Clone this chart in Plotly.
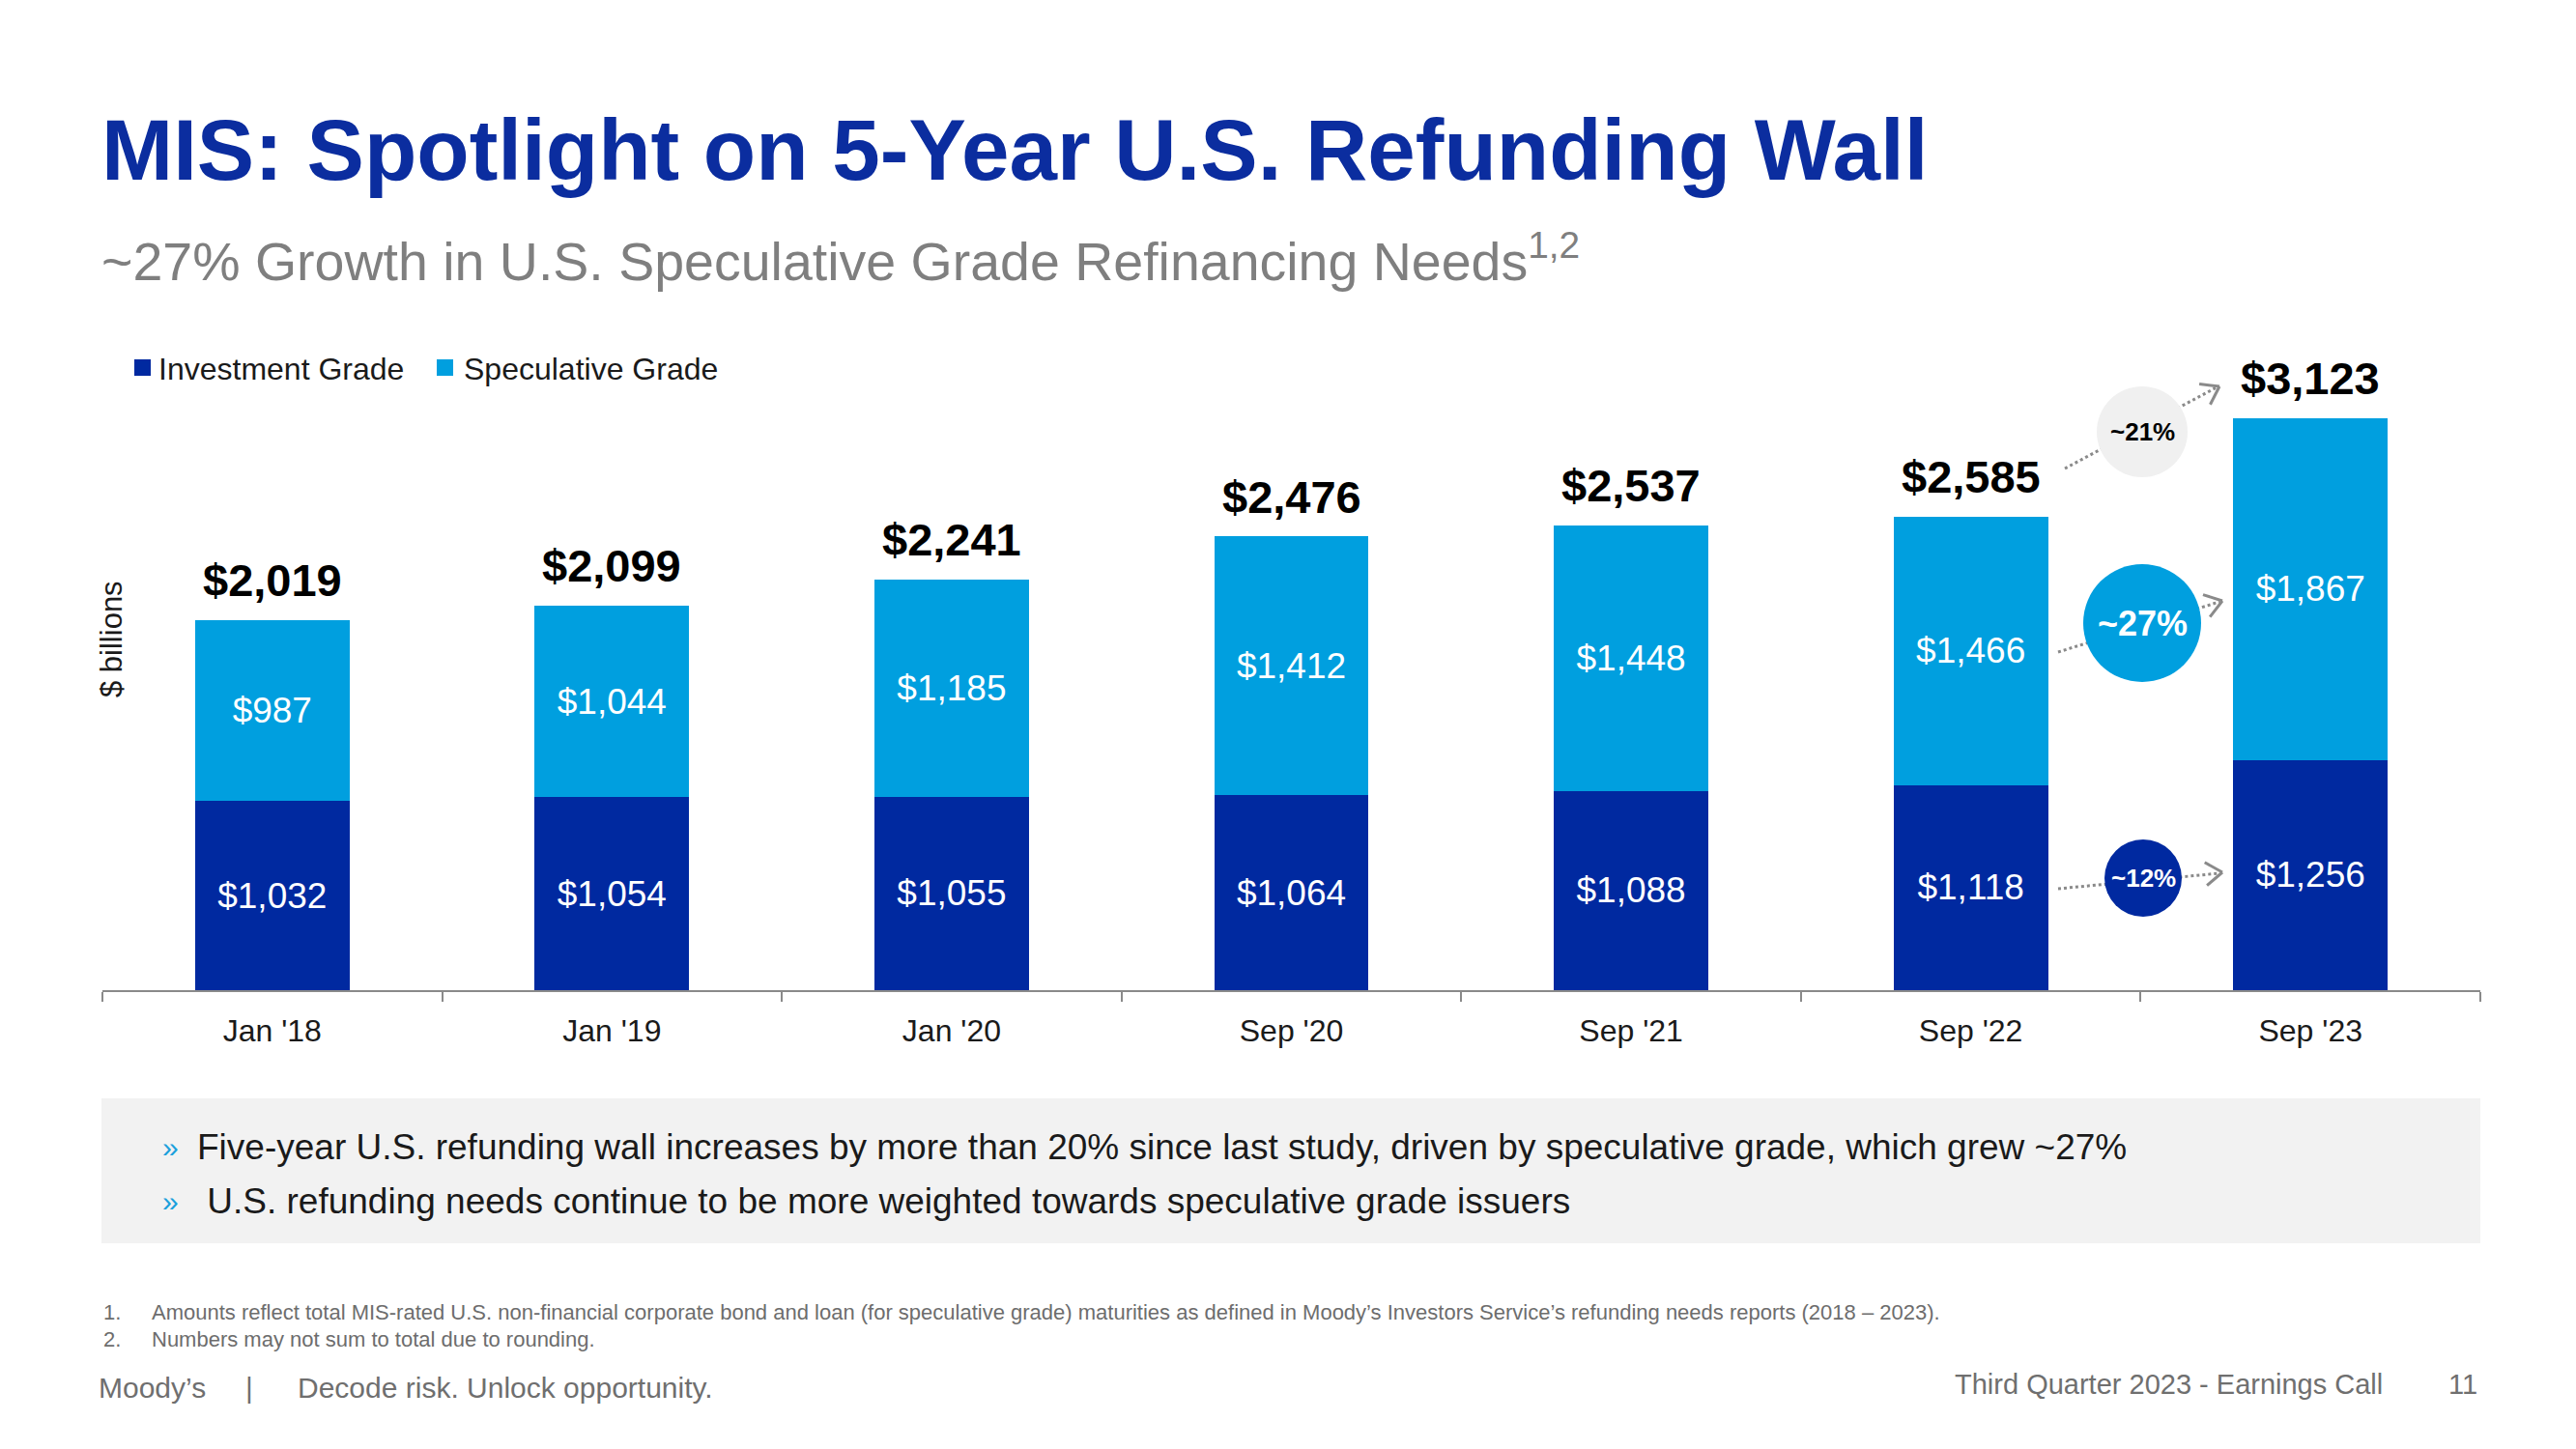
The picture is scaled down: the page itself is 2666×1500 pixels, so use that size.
import plotly.graph_objects as go
import math

# ---------------- data ----------------
categories = ["Jan '18", "Jan '19", "Jan '20", "Sep '20", "Sep '21", "Sep '22", "Sep '23"]
investment_grade = [1032, 1054, 1055, 1064, 1088, 1118, 1256]
speculative_grade = [987, 1044, 1185, 1412, 1448, 1466, 1867]
totals = [2019, 2099, 2241, 2476, 2537, 2585, 3123]
growth_labels = ["~21%", "~27%", "~12%"]

title_text = "MIS: Spotlight on 5-Year U.S. Refunding Wall"
subtitle_text = "~27% Growth in U.S. Speculative Grade Refinancing Needs<sup>1,2</sup>"
bullets = [
    "Five-year U.S. refunding wall increases by more than 20% since last study, driven by speculative grade, which grew ~27%",
    " U.S. refunding needs continue to be more weighted towards speculative grade issuers",
]
footnotes = [
    "Amounts reflect total MIS-rated U.S. non-financial corporate bond and loan (for speculative grade) maturities as defined in Moody\u2019s Investors Service\u2019s refunding needs reports (2018 \u2013 2023).",
    "Numbers may not sum to total due to rounding.",
]

# ---------------- style ----------------
W, H = 2666, 1500
L, R, T, B = 106, 2567, 380, 1025
YMAX = 3400
FONT = "Liberation Sans, Arial, sans-serif"
C_IG = "#0029A0"
C_SG = "#009FDF"
C_TITLE = "#0B2D9F"
C_GRAY = "#8A8A8A"
C_TXT = "#1A1A1A"


def px(x):  # pixel -> paper x
    return (x - L) / (R - L)


def py(y):  # pixel -> paper y
    return (B - y) / (B - T)


fig = go.Figure()
fig.add_trace(go.Bar(
    x=categories, y=investment_grade, name="Investment Grade",
    marker=dict(color=C_IG, line=dict(width=0)),
    texttemplate="$%{y:,.0f}", textposition="inside", insidetextanchor="middle",
    textangle=0, insidetextfont=dict(family=FONT, size=37, color="white"),
))
fig.add_trace(go.Bar(
    x=categories, y=speculative_grade, name="Speculative Grade",
    marker=dict(color=C_SG, line=dict(width=0)),
    texttemplate="$%{y:,.0f}", textposition="inside", insidetextanchor="middle",
    textangle=0, insidetextfont=dict(family=FONT, size=37, color="white"),
))

annotations = []
shapes = []

# totals above bars
for c, t in zip(categories, totals):
    annotations.append(dict(x=c, y=t, xref="x", yref="y", text=f"${t:,}", showarrow=False,
                            yanchor="middle", yshift=41,
                            font=dict(family=FONT, size=47, color="#000000", weight="bold")))

# title / subtitle
annotations.append(dict(x=px(103), y=py(155), xref="paper", yref="paper", text=f"<b>{title_text}</b>",
                        showarrow=False, xanchor="left", yanchor="middle",
                        font=dict(family=FONT, size=89, color=C_TITLE)))
annotations.append(dict(x=px(103), y=py(267), xref="paper", yref="paper", text=subtitle_text,
                        showarrow=False, xanchor="left", yanchor="middle",
                        font=dict(family=FONT, size=55.5, color="#7F7F7F")))

# legend (manual)
for (label, color, sx, tx) in [("Investment Grade", C_IG, 139, 162), ("Speculative Grade", C_SG, 452, 478)]:
    shapes.append(dict(type="rect", xref="paper", yref="paper", x0=px(sx), x1=px(sx + 17),
                       y0=py(389), y1=py(372), fillcolor=color, line=dict(width=0)))
    annotations.append(dict(x=px(tx), y=py(382), xref="paper", yref="paper", text=label,
                            showarrow=False, xanchor="left", yanchor="middle",
                            font=dict(family=FONT, size=32, color=C_TXT)))

# y-axis label
annotations.append(dict(x=px(115), y=py(662), xref="paper", yref="paper", text="$ billions",
                        showarrow=False, textangle=-90, xanchor="center", yanchor="middle",
                        font=dict(family=FONT, size=31, color=C_TXT)))

# growth bubbles: (center, radius, fill, text color, font size, line start, arrow tip)
bubbles = [
    ((2217, 447), 47, "#F0F0F0", "#000000", 26, (2137, 485), (2297, 400)),
    ((2217, 645), 61, C_SG, "#FFFFFF", 36, (2130, 675), (2300, 622)),
    ((2218, 909), 40, C_IG, "#FFFFFF", 26, (2130, 920), (2300, 903)),
]
for lab, (cen, r, fill, tcol, fs, st, tip) in zip(growth_labels, bubbles):
    shapes.append(dict(type="line", xref="paper", yref="paper", x0=px(st[0]), y0=py(st[1]),
                       x1=px(tip[0] - 3), y1=py(tip[1] + 1), line=dict(color=C_GRAY, width=3, dash="dot")))
    ux, uy = tip[0] - st[0], tip[1] - st[1]
    n = math.hypot(ux, uy)
    ux, uy = ux / n, uy / n
    for a in (math.radians(35), math.radians(-35)):
        bx = -(ux * math.cos(a) - uy * math.sin(a)) * 21
        by = -(ux * math.sin(a) + uy * math.cos(a)) * 21
        shapes.append(dict(type="line", xref="paper", yref="paper", x0=px(tip[0]), y0=py(tip[1]),
                           x1=px(tip[0] + bx), y1=py(tip[1] + by), line=dict(color=C_GRAY, width=3)))
    shapes.append(dict(type="circle", xref="paper", yref="paper", x0=px(cen[0] - r), x1=px(cen[0] + r),
                       y0=py(cen[1] + r), y1=py(cen[1] - r), fillcolor=fill, line=dict(width=0)))
    annotations.append(dict(x=px(cen[0]), y=py(cen[1]), xref="paper", yref="paper", text=f"<b>{lab}</b>",
                            showarrow=False, xanchor="center", yanchor="middle",
                            font=dict(family=FONT, size=fs, color=tcol)))

# bullet box
shapes.append(dict(type="rect", xref="paper", yref="paper", x0=px(105), x1=px(2567), y0=py(1287), y1=py(1137),
                   fillcolor="#F2F2F2", line=dict(width=0), layer="below"))
for i, (txt, ty, tx) in enumerate(zip(bullets, [1187, 1243], [202, 202])):
    annotations.append(dict(x=px(166), y=py(ty), xref="paper", yref="paper", text="\u00bb",
                            showarrow=False, xanchor="left", yanchor="middle",
                            font=dict(family=FONT, size=30, color="#1AA0DC")))
    annotations.append(dict(x=px(tx), y=py(ty), xref="paper", yref="paper", text=txt,
                            showarrow=False, xanchor="left", yanchor="middle",
                            font=dict(family=FONT, size=37, color=C_TXT)))

# footnotes
for i, (txt, ty) in enumerate(zip(footnotes, [1358, 1386])):
    annotations.append(dict(x=px(105), y=py(ty), xref="paper", yref="paper", text=f"{i+1}.",
                            showarrow=False, xanchor="left", yanchor="middle",
                            font=dict(family=FONT, size=22, color="#6D6D6D")))
    annotations.append(dict(x=px(155), y=py(ty), xref="paper", yref="paper", text=txt,
                            showarrow=False, xanchor="left", yanchor="middle",
                            font=dict(family=FONT, size=22, color="#6D6D6D")))

# footer
for txt, x, anchor in [("Moody\u2019s", 100, "left"), ("|", 258, "center"),
                       ("Decode risk. Unlock opportunity.", 306, "left")]:
    annotations.append(dict(x=px(x), y=py(1436), xref="paper", yref="paper", text=txt,
                            showarrow=False, xanchor=anchor, yanchor="middle",
                            font=dict(family=FONT, size=30, color="#6F6F6F")))
annotations.append(dict(x=px(2468), y=py(1433), xref="paper", yref="paper", text="Third Quarter 2023 - Earnings Call",
                        showarrow=False, xanchor="right", yanchor="middle",
                        font=dict(family=FONT, size=29, color="#6F6F6F")))
annotations.append(dict(x=px(2566), y=py(1433), xref="paper", yref="paper", text="11",
                        showarrow=False, xanchor="right", yanchor="middle",
                        font=dict(family=FONT, size=29, color="#6F6F6F")))

fig.update_layout(
    width=W, height=H,
    margin=dict(l=L, r=W - R, t=T, b=H - B, pad=0),
    barmode="stack", bargap=0.545,
    showlegend=False,
    plot_bgcolor="white", paper_bgcolor="white",
    font=dict(family=FONT, color=C_TXT),
    annotations=annotations, shapes=shapes,
    xaxis=dict(type="category", showline=True, linecolor=C_GRAY, linewidth=2,
               ticks="outside", tickson="boundaries", ticklen=10, tickwidth=2, tickcolor=C_GRAY,
               tickfont=dict(family=FONT, size=32, color=C_TXT), ticklabelstandoff=13,
               showgrid=False, zeroline=False, fixedrange=True),
    yaxis=dict(range=[0, YMAX], visible=False, showgrid=False, zeroline=False, fixedrange=True),
)

fig.write_html("out.html")
